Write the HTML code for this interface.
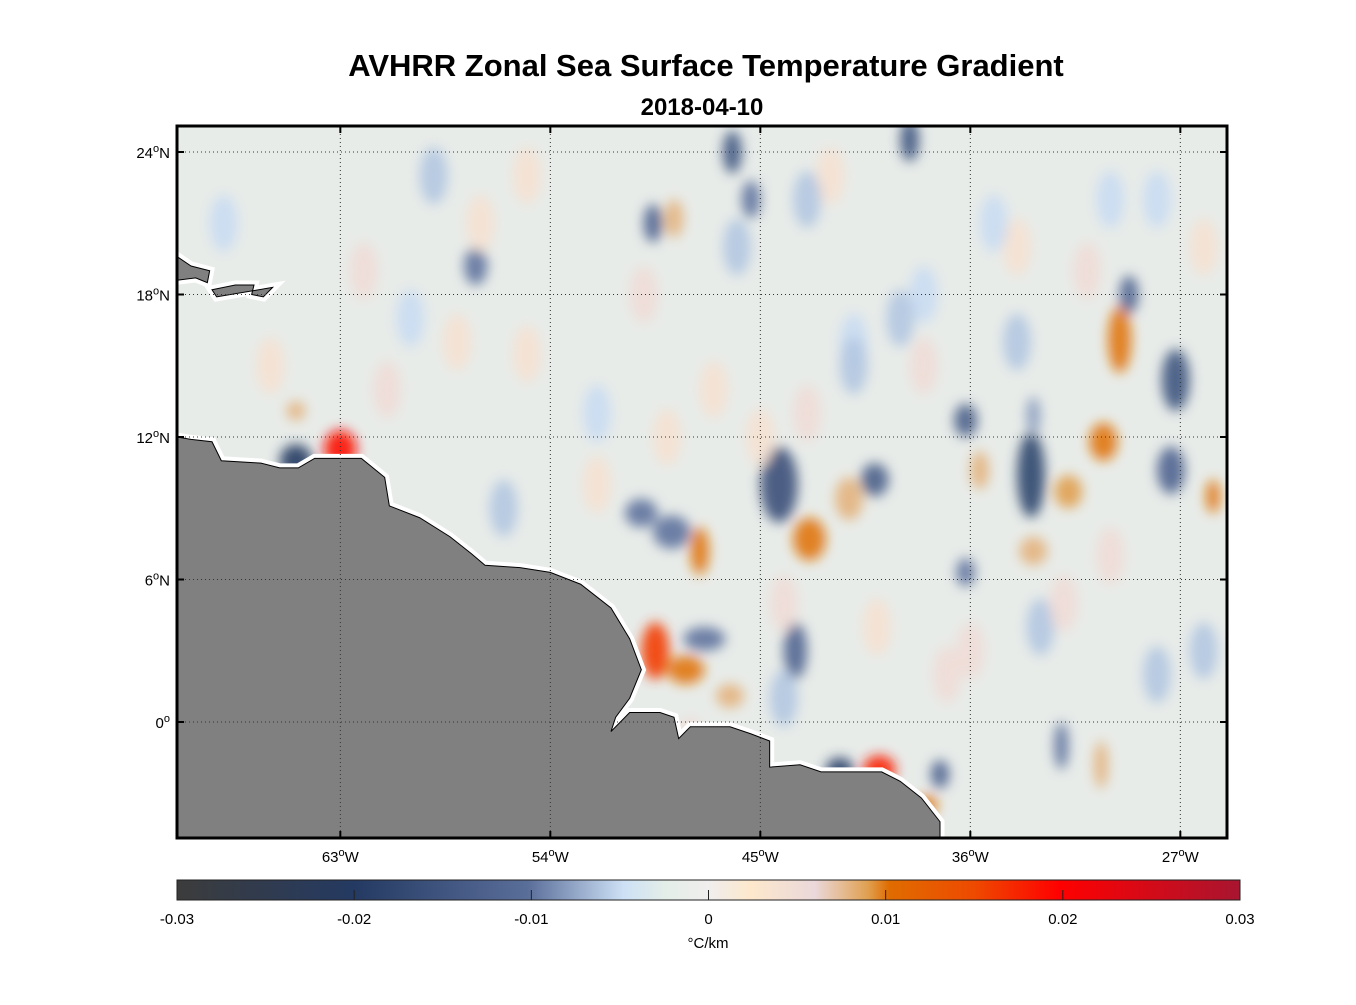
<!DOCTYPE html>
<html><head><meta charset="utf-8"><style>
body{margin:0;background:#fff;width:1356px;height:1000px;overflow:hidden;font-family:"Liberation Sans",Arial,sans-serif}
</style></head><body>
<svg id="s" width="1356" height="1000" xmlns="http://www.w3.org/2000/svg" font-family="Liberation Sans, Arial, sans-serif">
<defs>
<clipPath id="pc"><rect x="177" y="126" width="1050" height="712"/></clipPath>
<filter id="bl" x="-50%" y="-50%" width="200%" height="200%"><feGaussianBlur stdDeviation="6"/></filter>
<linearGradient id="cg" x1="0" x2="1" y1="0" y2="0">
<stop offset="0" stop-color="#3c3c3c"/><stop offset="0.167" stop-color="#243a62"/><stop offset="0.33" stop-color="#5a6e9a"/><stop offset="0.42" stop-color="#cde0f5"/><stop offset="0.46" stop-color="#e4eee8"/><stop offset="0.5" stop-color="#f0eeee"/><stop offset="0.54" stop-color="#fde8cc"/><stop offset="0.6" stop-color="#ead8da"/><stop offset="0.65" stop-color="#e0a050"/><stop offset="0.67" stop-color="#e06c00"/><stop offset="0.75" stop-color="#ee4a00"/><stop offset="0.83" stop-color="#ff0000"/><stop offset="1" stop-color="#a81530"/>
</linearGradient>
</defs>
<text x="706" y="76" text-anchor="middle" font-size="31" font-weight="bold">AVHRR Zonal Sea Surface Temperature Gradient</text>
<text x="702" y="115" text-anchor="middle" font-size="24" font-weight="bold">2018-04-10</text>
<g id="plot" clip-path="url(#pc)">
<rect x="177" y="126" width="1050" height="712" fill="#e8ece9"/>
<g id="blobs" filter="url(#bl)"></g>
<g id="land"></g>
</g>
<g id="grid"></g>
<rect x="177" y="126" width="1050" height="712" fill="none" stroke="#000" stroke-width="3"/>
<g id="axes"></g>
<rect x="177" y="880" width="1063" height="20" fill="url(#cg)" stroke="#222" stroke-width="1"/>
<g id="cbticks"></g>
<text x="708" y="948" text-anchor="middle" font-size="15">°C/km</text>
</svg>
<script>
const lonTicks=[-63,-54,-45,-36,-27];
const latTicks=[24,18,12,6,0];
const lonTickLabels=["63","54","45","36","27"];
const latTickLabels=["24","18","12","6","0"];
const cbTicks=[-0.03,-0.02,-0.01,0,0.01,0.02,0.03];
const cbTickLabels=["-0.03","-0.02","-0.01","0","0.01","0.02","0.03"];
const blobLon=[-64.9,-63,-64.9,-44.2,-40.1,-36.2,-33.4,-27.2,-27.4,-29.6,-30.3,-31.8,-42.9,-41.2,-49.5,-48.2,-46.3,-47.4,-43.5,-41.6,-39.9,-37.3,-37.9,-48.8,-50.1,-49.6,-46.2,-38.6,-45.4,-48.7,-29.2,-33.3,-25.6,-32.1,-30.4,-35.6,-33.3,-36.2,-57.2,-47.6,
 -55,-52,-58,-41,-38,-34,-30,-47,-44,-40,-60,-56,-52,-43,-53,-57,-61,-59,-66,-68,-62,-50,-46,-42,-39,-35,-31,-28,-26,-33,-37,-44,-48,-54,-58,-64,-67,-45,-41,-36,-32,-28,-51,-55,-49,-43,-38,-34,-30,-26];
const blobLat=[11.0,11.5,13.1,10.0,10.2,12.7,10.4,14.4,10.6,16.1,11.8,9.7,7.7,9.4,3.0,2.2,1.1,3.5,3.0,-2.0,-2.0,-2.2,-3.5,8.0,8.8,21.0,24.0,24.5,22.0,21.2,18.0,12.9,9.5,-1.0,-1.8,10.6,7.2,6.3,19.2,7.2,
 15.5,13,16,16,18,20,22,14,5,4,17,9,10,13,4,21,14,23,15,21,19,18,20,23,17,21,19,22,20,4,2,1,-1,-3,0,6,8,12,15,3,5,2,-2,23,12,22,15,16,7,3,2];
const blobVal=[-0.02,0.019,0.008,-0.016,-0.013,-0.013,-0.018,-0.015,-0.012,0.01,0.01,0.009,0.01,0.008,0.016,0.01,0.008,-0.01,-0.012,-0.019,0.018,-0.012,0.01,-0.01,-0.01,-0.012,-0.015,-0.015,-0.01,0.008,-0.012,-0.008,0.01,-0.01,0.008,0.008,0.008,-0.01,-0.01,0.01,
 0.004,-0.005,0.004,-0.005,-0.005,0.004,-0.005,0.004,0.005,0.004,-0.005,-0.006,0.004,0.005,-0.005,0.004,0.005,-0.006,0.004,-0.005,0.005,0.005,-0.006,0.004,-0.006,-0.005,0.005,-0.005,0.004,-0.006,0.005,-0.006,0.005,0.004,0.005,-0.005,0.004,0.004,-0.006,0.005,0.005,-0.006,0.004,0.004,0.004,-0.006,0.005,-0.006,0.005,-0.006,0.005,-0.005];
const blobRx=[0.7,0.7,0.4,0.8,0.6,0.5,0.6,0.6,0.6,0.5,0.6,0.6,0.7,0.6,0.6,0.8,0.6,0.9,0.5,0.6,0.7,0.4,0.5,0.8,0.7,0.4,0.4,0.4,0.4,0.4,0.4,0.3,0.3,0.3,0.3,0.4,0.6,0.4,0.5,0.4,
 0.6,0.6,0.6,0.6,0.6,0.6,0.6,0.6,0.6,0.6,0.6,0.6,0.6,0.6,0.6,0.6,0.6,0.6,0.6,0.6,0.6,0.6,0.6,0.6,0.6,0.6,0.6,0.6,0.6,0.6,0.6,0.6,0.6,0.6,0.6,0.6,0.6,0.6,0.6,0.6,0.6,0.6,0.6,0.6,0.6,0.6,0.6,0.6,0.6,0.6];
const blobRy=[0.7,0.8,0.4,1.6,0.7,0.7,1.8,1.3,1.0,1.4,0.8,0.7,0.9,0.9,1.2,0.6,0.5,0.5,1.2,0.5,0.6,0.6,0.4,0.7,0.6,0.8,0.9,0.9,0.8,0.8,0.8,0.8,0.7,1.0,1.0,0.8,0.6,0.6,0.8,1.0,
 1.2,1.2,1.2,1.2,1.2,1.2,1.2,1.2,1.2,1.2,1.2,1.2,1.2,1.2,1.2,1.2,1.2,1.2,1.2,1.2,1.2,1.2,1.2,1.2,1.2,1.2,1.2,1.2,1.2,1.2,1.2,1.2,1.2,1.2,1.2,1.2,1.2,1.2,1.2,1.2,1.2,1.2,1.2,1.2,1.2,1.2,1.2,1.2,1.2,1.2];
const landLon=[-70,-69.4,-68.5,-68.1,-66.4,-65.6,-64.8,-64.1,-63,-62.1,-61.1,-60.9,-59.6,-58.3,-57.4,-56.8,-55.3,-54,-52.7,-51.4,-50.6,-50.1,-50.6,-51.2,-51.4,-50.6,-49.3,-48.7,-48.5,-48,-46.3,-45.4,-44.6,-44.6,-43.3,-42.4,-41.1,-39.8,-39,-38.1,-37.3,-37.3,-70];
const landLat=[12.0,11.9,11.8,11.0,10.9,10.7,10.7,11.1,11.1,11.1,10.3,9.1,8.6,7.8,7.1,6.6,6.5,6.3,5.8,4.8,3.5,2.2,1.0,0.2,-0.4,0.4,0.4,0.2,-0.7,-0.2,-0.2,-0.5,-0.8,-1.9,-1.8,-2.1,-2.1,-2.1,-2.5,-3.2,-4.2,-5,-5];
const islLon=[-68.5,-67.5,-66.7,-66.8,-66.3,-65.9,-68.3];
const islLat=[18.2,18.4,18.4,18.0,17.9,18.3,17.9];
const hisLon=[-70,-69.4,-68.6,-68.7,-69.2,-70];
const hisLat=[19.6,19.2,19.0,18.5,18.7,18.6];
const cStops=[[0,"#3c3c3c"],[0.167,"#243a62"],[0.33,"#5a6e9a"],[0.42,"#cde0f5"],[0.46,"#e4eee8"],[0.5,"#f0eeee"],[0.54,"#fde8cc"],[0.6,"#ead8da"],[0.65,"#e0a050"],[0.67,"#e06c00"],[0.75,"#ee4a00"],[0.83,"#ff0000"],[1,"#a81530"]];
const X=lon=>177+(lon+70)*1050/45;
const Y=lat=>722-lat*23.75;
const NS="http://www.w3.org/2000/svg";
function el(t,a,p){const e=document.createElementNS(NS,t);for(const k in a)e.setAttribute(k,a[k]);p.appendChild(e);return e;}
function hex(h){return [1,3,5].map(i=>parseInt(h.substr(i,2),16));}
function cmap(v){let f=Math.max(0,Math.min(1,(v+0.03)/0.06));for(let i=1;i<cStops.length;i++){if(f<=cStops[i][0]){const a=cStops[i-1],b=cStops[i];const t=(f-a[0])/(b[0]-a[0]);const c1=hex(a[1]),c2=hex(b[1]);return "rgb("+c1.map((c,j)=>Math.round(c+(c2[j]-c)*t)).join(",")+")";}}return cStops[cStops.length-1][1];}
const bg=document.getElementById('blobs');
for(let i=0;i<blobLon.length;i++){
 const e=el('ellipse',{cx:X(blobLon[i]),cy:Y(blobLat[i]),rx:blobRx[i]*23.3,ry:blobRy[i]*23.7,fill:cmap(blobVal[i]),opacity:0.9},bg);
 
 
}
const lg=document.getElementById('land');
function poly(lons,lats,name){
 const pts=lons.map((l,i)=>X(l)+","+Y(lats[i])).join(" ");
 const h=el('polygon',{points:pts,fill:"#fff",stroke:"#fff","stroke-width":9,"stroke-linejoin":"miter"},lg);
 
 
 const p=el('polygon',{points:pts,fill:"#808080",stroke:"#000","stroke-width":1},lg);
 
 
}
poly(landLon,landLat,'south-america-land');
poly(islLon,islLat,'puerto-rico-land');
poly(hisLon,hisLat,'hispaniola-land');
const gg=document.getElementById('grid');
lonTicks.forEach(l=>{const e=el('line',{x1:X(l),x2:X(l),y1:126,y2:838,stroke:"#333","stroke-width":1,"stroke-dasharray":"1,3"},gg);});
latTicks.forEach(l=>{const e=el('line',{x1:177,x2:1227,y1:Y(l),y2:Y(l),stroke:"#333","stroke-width":1,"stroke-dasharray":"1,3"},gg);});
const ax=document.getElementById('axes');
lonTicks.forEach((l,i)=>{
 el('line',{x1:X(l),x2:X(l),y1:126,y2:133,stroke:"#000","stroke-width":2},ax);
 el('line',{x1:X(l),x2:X(l),y1:831,y2:838,stroke:"#000","stroke-width":2},ax);
 const t=el('text',{x:X(l),y:862,"text-anchor":"middle","font-size":15},ax);
 t.innerHTML=lonTickLabels[i]+'<tspan dy="-6" font-size="11">o</tspan><tspan dy="6">W</tspan>';
 
 
});
latTicks.forEach((l,i)=>{
 el('line',{x1:177,x2:184,y1:Y(l),y2:Y(l),stroke:"#000","stroke-width":2},ax);
 el('line',{x1:1220,x2:1227,y1:Y(l),y2:Y(l),stroke:"#000","stroke-width":2},ax);
 const t=el('text',{x:170,y:Y(l)+6,"text-anchor":"end","font-size":15},ax);
 t.innerHTML=latTickLabels[i]+'<tspan dy="-6" font-size="11">o</tspan>'+(l===0?'':'<tspan dy="6">N</tspan>');
 
 
});
const cb=document.getElementById('cbticks');
const CX=v=>177+(v+0.03)/0.06*1063;
cbTicks.forEach((v,i)=>{
 if(i>0&&i<cbTicks.length-1)el('line',{x1:CX(v),x2:CX(v),y1:890,y2:900,stroke:"#222","stroke-width":1},cb);
 const t=el('text',{x:CX(v),y:924,"text-anchor":"middle","font-size":15},cb);
 t.textContent=cbTickLabels[i];
 
 
});
</script>
</body></html>
